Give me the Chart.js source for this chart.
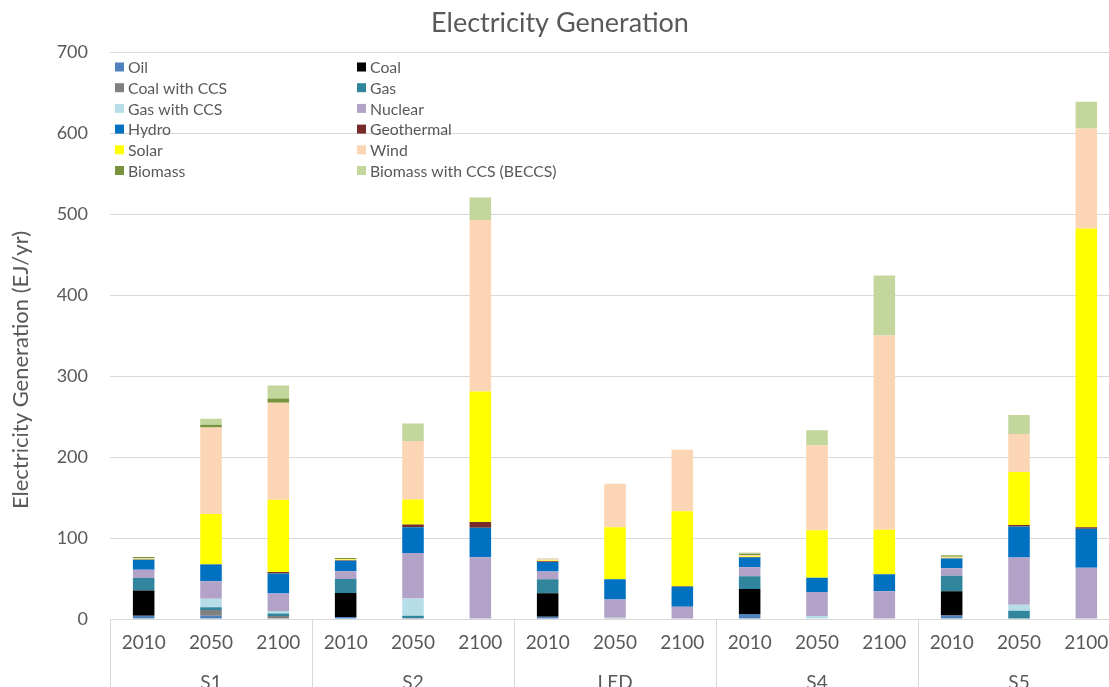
<!DOCTYPE html>
<html>
<head>
<meta charset="utf-8">
<title>Electricity Generation</title>
<script src="https://cdn.jsdelivr.net/npm/chart.js@4.4.1/dist/chart.umd.min.js"></script>
<style>
  html, body { margin: 0; padding: 0; background: #fff; overflow: hidden; }
  #wrap { width: 1124px; height: 692px; }
</style>
</head>
<body>
<div id="wrap"><canvas id="chart" width="1124" height="692"></canvas></div>
<script>
// scenarios and years (two-level category axis)
const scenarios = ['S1', 'S2', 'LED', 'S4', 'S5'];
const years = ['2010', '2050', '2100'];
const yTicks = [0, 100, 200, 300, 400, 500, 600, 700];

// EJ/yr, one value per bar: S1 2010/2050/2100, S2 ..., LED ..., S4 ..., S5 ...
const oil      = [4.1, 4.1, 0.5,   2.5, 0, 0,       2.9, 0.5, 0,     6.2, 0, 0,       4.3, 0, 0];
const coal     = [31, 0, 0,        29.5, 0, 0,      28.9, 0, 0,      30.9, 0, 0,      29.9, 0, 0];
const coalCcs  = [0, 7, 3.3,       0, 1, 0,         0, 0.5, 0.5,     0, 0.5, 0,       0, 0.5, 0];
const gas      = [15.7, 3.3, 2.9,  17.4, 2.9, 0,    17.4, 0, 0,      15.6, 0, 0,      19.2, 9.8, 0.5];
const gasCcs   = [0, 10.7, 3.3,    0, 21.5, 0,      0, 0.5, 0,       0, 3.3, 0.5,     0, 7.2, 0];
const nuclear  = [9.9, 21.5, 21.5, 9.5, 56.2, 76.4, 9.5, 22.7, 14.5, 11.1, 29.6, 33.7, 9.4, 58.4, 62.7];
const hydro    = [12.4, 20.7, 24.8, 13.2, 31.8, 36.4, 11.6, 24.8, 24.8, 12.3, 17.7, 21, 11.9, 38.4, 48.2];
const geo      = [0.4, 0.3, 1.7,   0.4, 3.3, 7,     1.2, 0, 0.8,     0.5, 0, 0,       0.5, 1.7, 2.1];
const solar    = [0.5, 62, 89.3,   1, 31, 161.2,    0.8, 64.5, 92.6, 1, 58.4, 55.1,   0.5, 65.7, 368.9];
const wind     = [1, 107, 119.8,   0.5, 72.3, 212,  1.5, 53.7, 76,   1.5, 105.3, 239.9, 1.3, 46.9, 123.7];
const biomass  = [1.5, 3.3, 5.4,   1.5, 0, 0,       0.5, 0, 0,       1.5, 0, 0,       1.5, 0, 0];
const beccs    = [0, 7.4, 16.1,    0, 21.5, 27.7,   0, 0, 0,         1.7, 18.5, 74.1, 0.5, 23.5, 32.8];

const seriesNames = ['Oil', 'Coal', 'Coal with CCS', 'Gas', 'Gas with CCS', 'Nuclear',
  'Hydro', 'Geothermal', 'Solar', 'Wind', 'Biomass', 'Biomass with CCS (BECCS)'];
const seriesData = [oil, coal, coalCcs, gas, gasCcs, nuclear, hydro, geo, solar, wind, biomass, beccs];
const seriesColors = ['#4f81bd', '#000000', '#808080', '#31859c', '#b7dee8', '#b3a2c7',
  '#0070c0', '#772c2a', '#ffff00', '#fcd5b5', '#77933c', '#c3d69b'];

const labels = [];
scenarios.forEach(() => years.forEach(y => labels.push(y)));

const textColor = '#595959';
const gridColor = '#d9d9d9';
const fontFamily = 'Lato, sans-serif';

// legend drawn in two columns inside the plot, like the original
const boxLegend = {
  id: 'boxLegend',
  afterDraw(chart) {
    const ctx = chart.ctx;
    const left = chart.chartArea.left;
    ctx.save();
    ctx.font = '15.8px ' + fontFamily;
    ctx.textBaseline = 'middle';
    chart.data.datasets.forEach((ds, i) => {
      const x = left + (i % 2 === 0 ? 5 : 247);
      const y = 67 + Math.floor(i / 2) * 20.7;
      ctx.fillStyle = ds.backgroundColor;
      ctx.fillRect(x, y - 4.5, 9, 9);
      ctx.fillStyle = textColor;
      ctx.fillText(ds.label, x + 13, y + 1);
    });
    ctx.restore();
  }
};

// vertical axis title, sitting a little below the plot centre as in the original
const yTitle = {
  id: 'yTitle',
  afterDraw(chart) {
    const ctx = chart.ctx;
    ctx.save();
    ctx.translate(21, 370);
    ctx.rotate(-Math.PI / 2);
    ctx.font = '22px ' + fontFamily;
    ctx.textAlign = 'center';
    ctx.textBaseline = 'middle';
    ctx.fillStyle = textColor;
    ctx.fillText('Electricity Generation (EJ/yr)', 0, 0);
    ctx.restore();
  }
};

// vertical separators between scenario groups under the axis
const groupLines = {
  id: 'groupLines',
  afterDraw(chart) {
    const ctx = chart.ctx;
    const xs = chart.scales.x;
    const area = chart.chartArea;
    const n = years.length;
    ctx.save();
    ctx.strokeStyle = gridColor;
    ctx.lineWidth = 1;
    for (let g = 0; g <= scenarios.length; g++) {
      let px;
      if (g === 0) px = area.left;
      else if (g === scenarios.length) px = area.right;
      else px = (xs.getPixelForValue(g * n - 1) + xs.getPixelForValue(g * n)) / 2;
      px = Math.round(px) + 0.5;
      ctx.beginPath();
      ctx.moveTo(px, area.bottom);
      ctx.lineTo(px, chart.height);
      ctx.stroke();
    }
    ctx.restore();
  }
};

new Chart(document.getElementById('chart'), {
  type: 'bar',
  data: {
    labels: labels,
    datasets: seriesNames.map((name, i) => ({
      label: name,
      data: seriesData[i],
      backgroundColor: seriesColors[i],
      borderWidth: 0,
      categoryPercentage: 1,
      barPercentage: 0.32
    }))
  },
  options: {
    responsive: false,
    animation: false,
    layout: { padding: { left: 0, right: 4, top: 0, bottom: 0 } },
    plugins: {
      legend: { display: false },
      tooltip: { enabled: false },
      title: {
        display: true,
        text: 'Electricity Generation',
        color: textColor,
        font: { family: fontFamily, size: 27, weight: 'normal' },
        padding: { top: 7, bottom: 13 }
      }
    },
    scales: {
      x: {
        stacked: true,
        grid: { display: false, drawTicks: false },
        border: { display: false },
        ticks: { color: textColor, font: { family: fontFamily, size: 19 }, padding: 12, maxRotation: 0, autoSkip: false },
        afterFit: (scale) => { scale.height = 35; }
      },
      x2: {
        type: 'category',
        labels: scenarios,
        position: 'bottom',
        offset: true,
        grid: { display: false, drawTicks: false },
        border: { display: false },
        ticks: { color: textColor, font: { family: fontFamily, size: 19 }, padding: 17, maxRotation: 0 },
        afterFit: (scale) => { scale.height = 38; }
      },
      y: {
        stacked: true,
        min: 0,
        max: 700,
        afterBuildTicks: (scale) => { scale.ticks = yTicks.map(v => ({ value: v })); },
        afterFit: (scale) => { scale.width = 110; },
        grid: { color: gridColor, lineWidth: 1, drawTicks: false },
        border: { display: false },
        ticks: { color: textColor, font: { family: fontFamily, size: 18 }, padding: 22 }
      }
    }
  },
  plugins: [boxLegend, groupLines, yTitle]
});
</script>
</body>
</html>
